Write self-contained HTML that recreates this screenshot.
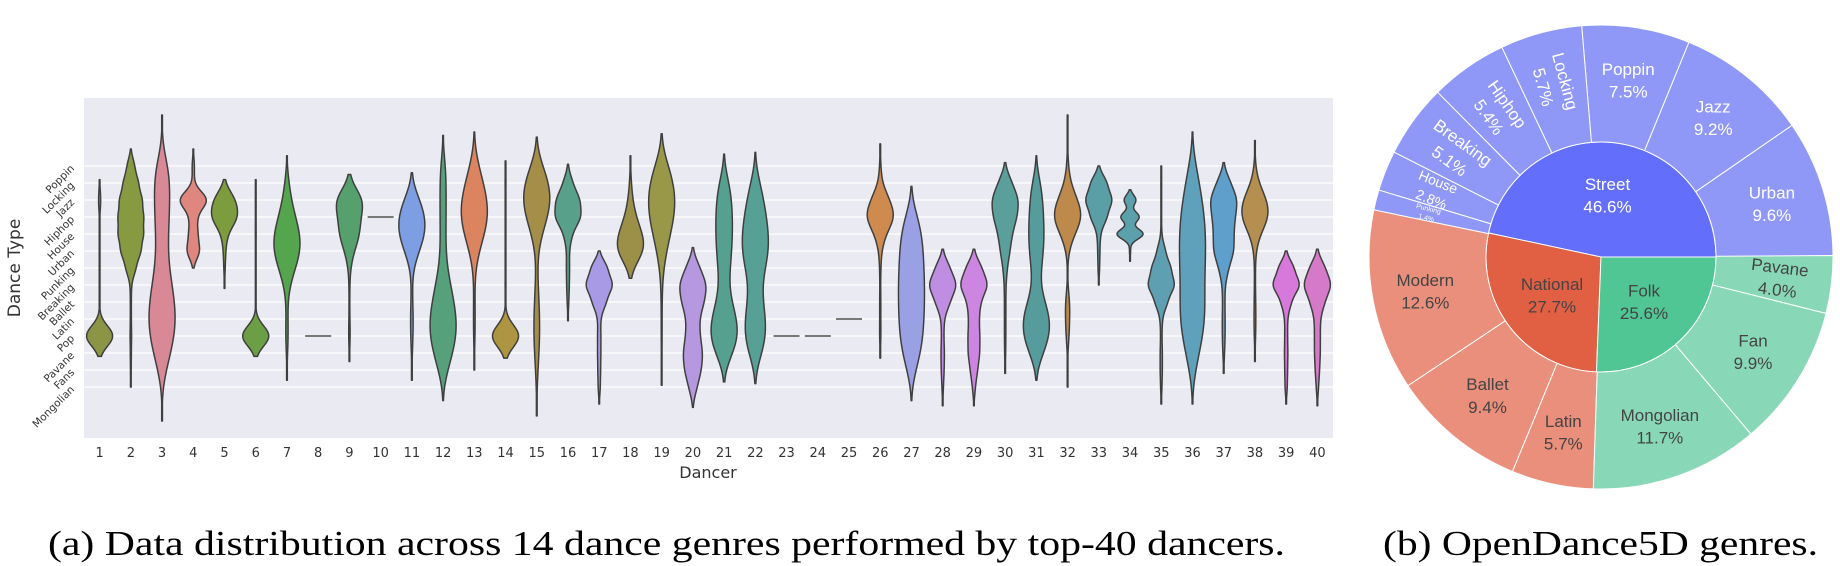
<!DOCTYPE html>
<html><head><meta charset="utf-8"><style>
html,body{margin:0;padding:0;background:#fff;}
svg{display:block;}
</style></head><body>
<svg id="fig" width="1840" height="566" viewBox="0 0 1840 566" xmlns="http://www.w3.org/2000/svg">
<rect x="84" y="98" width="1249" height="340" fill="#eaeaf2"/>
<g id="grid"></g>
<g id="violins"></g>
<g id="yticks"></g>
<g id="xticks"></g>
<text transform="translate(20,268) rotate(-90)" text-anchor="middle" font-family="DejaVu Sans, Liberation Sans, sans-serif" font-size="17" fill="#333">Dance Type</text>
<text x="708" y="478" text-anchor="middle" font-family="DejaVu Sans, Liberation Sans, sans-serif" font-size="16" fill="#333">Dancer</text>
<g id="sunburst"></g>
<text x="48" y="555" font-family="Liberation Serif, serif" font-size="35" fill="#000" textLength="1237" lengthAdjust="spacingAndGlyphs">(a) Data distribution across 14 dance genres performed by top-40 dancers.</text>
<text x="1383" y="555" font-family="Liberation Serif, serif" font-size="35" fill="#000" textLength="435" lengthAdjust="spacingAndGlyphs">(b) OpenDance5D genres.</text>
</svg>
<script>
const NS="http://www.w3.org/2000/svg";
// ---------- violin data ----------
const categories=["Poppin","Locking","Jazz","Hiphop","House","Urban","Punking","Breaking","Ballet","Latin","Pop","Pavane","Fans","Mongolian"];
const dancers=[1,2,3,4,5,6,7,8,9,10,11,12,13,14,15,16,17,18,19,20,21,22,23,24,25,26,27,28,29,30,31,32,33,34,35,36,37,38,39,40];
const weights=[
[0,0,.08,0,0,0,0,0,0,0,1,0,0,0],
[.3,.6,.9,1,1,.8,.4,.05,.04,.04,.06,.04,.03,0],
[.5,.55,.55,.5,.45,.4,.5,.7,.9,1,.9,.6,.3,0],
[.08,.05,1,.25,.3,.45,0,0,0,0,0,0,0,0],
[0,0,.8,1,.2,.08,.05,0,0,0,0,0,0,0],
[0,0,.02,0,.03,0,0,0,0,0,1,0,0,0],
[0,.15,.3,.6,.95,1,.6,.2,.05,.07,.1,.04,0,0],
[0,0,0,0,0,0,0,0,0,0,1,0,0,0],
[0,0,1,.55,.65,.25,.05,.02,.02,.02,.06,0,0,0],
[0,0,0,1,0,0,0,0,0,0,0,0,0,0],
[0,0,.55,.95,.95,.5,.08,.03,.06,.1,.08,.03,0,0],
[.2,.22,.22,.22,.2,.2,.3,.55,.8,1,1,.7,.35,0],
[.3,.6,.9,1,.7,.3,.05,.03,.05,.06,.06,0,0,0],
[0,.03,0,0,0,0,0,.03,0,0,1,0,0,0],
[.4,.85,1,.75,.35,.1,.05,.1,.15,.2,.2,.15,.08,.03],
[0,.35,.9,1,.3,.1,.12,.1,.06,0,0,0,0,0],
[0,0,0,0,0,0,.6,1,.5,.1,.12,.12,.1,.08],
[0,.05,.12,.3,.7,1,0,0,0,0,0,0,0,0],
[.5,.85,1,.9,.6,.35,.12,.05,.03,.03,.03,.03,0,0],
[0,0,0,0,0,0,.5,1,.8,.45,.5,.7,.6,.3],
[0,.35,.5,.55,.55,.5,.4,.3,.5,.85,1,.6,0,0],
[0,.35,.6,.8,.95,1,.7,.45,.55,.75,.8,.5,0,0],
[0,0,0,0,0,0,0,0,0,0,1,0,0,0],
[0,0,0,0,0,0,0,0,0,0,1,0,0,0],
[0,0,0,0,0,0,0,0,0,1,0,0,0,0],
[.04,.1,.6,1,.35,.08,.04,.02,.04,.03,.05,0,0,0],
[0,0,0,.5,.8,.9,.95,1,1,.95,.9,.7,.35,0],
[0,0,0,0,0,0,.5,1,.5,.1,.08,.12,.1,.05],
[0,0,0,0,0,0,.55,1,.45,.35,.4,.4,.25,.1],
[0,.5,1,.85,.5,.35,.15,.06,.05,.05,.05,.04,0,0],
[0,.3,.45,.5,.55,.5,.35,.25,.6,1,.95,.5,0,0],
[.05,.15,.6,1,.4,.05,0,0,.15,.12,.1,0,0,0],
[0,.6,1,.6,.12,.08,.06,0,0,0,0,0,0,0],
[0,0,.45,.7,1,.04,0,0,0,0,0,0,0,0],
[0,.03,.02,.02,.03,.3,.7,1,.45,.08,.05,.08,.08,.05],
[.3,.5,.75,.9,1,1,.95,.9,.95,.95,.8,.5,.25,0],
[0,.5,1,.8,.7,.75,.35,.1,.08,.1,.1,.06,0,0],
[.03,.2,.8,1,.3,.05,.03,.03,.05,.06,.05,0,0,0],
[0,0,0,0,0,0,.55,1,.35,.1,.1,.12,.1,.08],
[0,0,0,0,0,0,.55,1,.5,.2,.2,.2,.15,.08]
];
const bandwidths=[.6,.5,1,.5,.6,.6,.8,.6,.75,.6,.8,.9,1,.65,.85,.55,.5,.8,.95,.6,.85,.9,.6,.6,.6,.65,.9,.55,.55,.6,.8,.75,.5,.3,.5,1,.6,.75,.5,.55];
const cuts=[2,2,3,2,2,2,2,2,2,2,2,2,2,2,2,2,2,2,2,2,2,2,2,2,2,2,2,2,2,2,2,4,2,2,2,2,2,2,2,2];
const fills=["#8c9446","#879a42","#d98896","#df877e","#7d9c3d","#6b9e45","#55a44e","#55a44e","#56a06e","#56a074","#7d9ee2","#56a07c","#dc8460","#ad9541","#a58e48","#58a08a","#a99ae6","#9c9048","#999848","#b598e0","#56a08f","#57a095","#5aa098","#5aa098","#5aa098","#cf8a4f","#9aa0e4","#bf8ee2","#cc85e0","#5a9f9a","#579c9c","#bd8a4c","#5a9fa6","#5ca0ab","#5ea0b2","#5fa0ba","#5f9fcb","#b48f50","#d679da","#d47ac8"];

const plotL=84,plotR=1333,plotT=98,plotB=438;
const band=(plotR-plotL)/dancers.length;
function xScale(i){return plotL+band*(i+0.5);}
function yScale(k){return 166+17*k;}
const maxHalf=13;

const gGrid=document.getElementById('grid');
const gV=document.getElementById('violins');
const gY=document.getElementById('yticks');
const gX=document.getElementById('xticks');

categories.forEach((c,k)=>{
  const l=document.createElementNS(NS,'line');
  
  
  l.setAttribute('x1',plotL);l.setAttribute('x2',plotR);
  l.setAttribute('y1',yScale(k));l.setAttribute('y2',yScale(k));
  l.setAttribute('stroke','#ffffff');l.setAttribute('stroke-width','1.3');
  gGrid.appendChild(l);
  const t=document.createElementNS(NS,'text');
  
  
  const x=75,y=yScale(k)+3;
  t.setAttribute('transform','translate('+x+','+y+') rotate(-45)');
  t.setAttribute('text-anchor','end');
  t.setAttribute('font-family','DejaVu Sans, Liberation Sans, sans-serif');
  t.setAttribute('font-size','10.5');
  t.setAttribute('fill','#333');
  t.textContent=c;
  gY.appendChild(t);
});

dancers.forEach((d,i)=>{
  const t=document.createElementNS(NS,'text');
  
  
  t.setAttribute('x',xScale(i));t.setAttribute('y',457);
  t.setAttribute('text-anchor','middle');
  t.setAttribute('font-family','DejaVu Sans, Liberation Sans, sans-serif');
  t.setAttribute('font-size','13');
  t.setAttribute('fill','#333');
  t.textContent=d;
  gX.appendChild(t);
});

dancers.forEach((d,i)=>{
  const w=weights[i],bw=bandwidths[i],cut=cuts[i];
  const cx=xScale(i);
  const nz=[];w.forEach((v,k)=>{if(v>0)nz.push(k);});
  if(nz.length===1){
    const l=document.createElementNS(NS,'line');
    
    
    l.setAttribute('x1',cx-maxHalf);l.setAttribute('x2',cx+maxHalf);
    l.setAttribute('y1',yScale(nz[0]));l.setAttribute('y2',yScale(nz[0]));
    l.setAttribute('stroke','#505050');l.setAttribute('stroke-width','1.6');
    gV.appendChild(l);return;
  }
  const k0=nz[0]-cut*bw,k1=nz[nz.length-1]+cut*bw;
  const ks=[],fs=[];
  for(let k=k0;k<=k1+1e-9;k+=0.04){
    let f=0;w.forEach((v,j)=>{if(v>0)f+=v*Math.exp(-0.5*Math.pow((k-j)/bw,2));});
    ks.push(k);fs.push(f);
  }
  const mx=Math.max(...fs);
  const hw=fs.map(f=>Math.max(0.35,maxHalf*f/mx));
  let p='M'+cx.toFixed(2)+','+yScale(ks[0]).toFixed(2);
  for(let n=0;n<ks.length;n++)p+='L'+(cx+hw[n]).toFixed(2)+','+yScale(ks[n]).toFixed(2);
  p+='L'+cx.toFixed(2)+','+yScale(ks[ks.length-1]).toFixed(2);
  for(let n=ks.length-1;n>=0;n--)p+='L'+(cx-hw[n]).toFixed(2)+','+yScale(ks[n]).toFixed(2);
  p+='Z';
  const path=document.createElementNS(NS,'path');
  
  
  path.setAttribute('d',p);
  path.setAttribute('fill',fills[i]);
  path.setAttribute('stroke','#3f3f3f');
  path.setAttribute('stroke-width','1.5');
  path.setAttribute('stroke-linejoin','round');
  gV.appendChild(path);
});

// ---------- sunburst data ----------
const groupNames=["Street","National","Folk"];
const groupValues=[46.6,27.7,25.6];
const leafNames=["Urban","Jazz","Poppin","Locking","Hiphop","Breaking","House","Punking","Modern","Ballet","Latin","Mongolian","Fan","Pavane"];
const leafValues=[9.6,9.2,7.5,5.7,5.4,5.1,2.8,1.4,12.6,9.4,5.7,11.7,9.9,4.0];
const leafParent=[0,0,0,0,0,0,0,0,1,1,1,2,2,2];
const leafMode=["h","h","h","r","r","r","r","r","h","h","h","h","h","r"];
const leafFont=[17,17,17,17,17,17,14,7,17,17,17,17,17,17];
const groupFill=["#636efa","#e15f43","#51c695"];
const leafFill=["#8f98f6","#ea8f7b","#88d8b8"];
const textFill=["#ffffff","#444444","#444444"];

const CX=1601,CY=257,R=232,RI=115;
const gS=document.getElementById('sunburst');
function pt(r,a){const t=a*Math.PI/180;return [CX+r*Math.cos(t),CY-r*Math.sin(t)];}
function wedge(r0,r1,a0,a1){
  const large=(a1-a0)>180?1:0;
  const p1=pt(r1,a0),p2=pt(r1,a1),p3=pt(r0,a1),p4=pt(r0,a0);
  let d='M'+p1[0]+','+p1[1]+'A'+r1+','+r1+' 0 '+large+' 0 '+p2[0]+','+p2[1]+'L'+p3[0]+','+p3[1];
  if(r0>0)d+='A'+r0+','+r0+' 0 '+large+' 1 '+p4[0]+','+p4[1];
  return d+'Z';
}
function label(lines,x,y,rot,size,fill,name){
  const t=document.createElementNS(NS,'text');
  
  
  t.setAttribute('transform','translate('+x.toFixed(1)+','+y.toFixed(1)+') rotate('+rot.toFixed(1)+')');
  t.setAttribute('text-anchor','middle');
  t.setAttribute('font-family','Liberation Sans, sans-serif');
  t.setAttribute('font-size',size);
  t.setAttribute('fill',fill);
  const lh=size*1.33;
  lines.forEach((s,n)=>{
    const ts=document.createElementNS(NS,'tspan');
    ts.setAttribute('x',0);
    ts.setAttribute('y',((n-(lines.length-1)/2)*lh+size*0.36).toFixed(1));
    ts.textContent=s;t.appendChild(ts);
  });
  gS.appendChild(t);
}
const total=groupValues.reduce((a,b)=>a+b,0);
let acc=0;
groupValues.forEach((v,g)=>{
  const a0=acc/total*360,a1=(acc+v)/total*360;acc+=v;
  const p=document.createElementNS(NS,'path');
  
  
  p.setAttribute('d',wedge(0,RI,a0,a1));
  p.setAttribute('fill',groupFill[g]);p.setAttribute('stroke','#fff');p.setAttribute('stroke-width','1');
  gS.appendChild(p);
});
acc=0;
leafValues.forEach((v,i)=>{
  const a0=acc/total*360,a1=(acc+v)/total*360;acc+=v;
  const p=document.createElementNS(NS,'path');
  
  
  p.setAttribute('d',wedge(RI,R,a0,a1));
  p.setAttribute('fill',leafFill[leafParent[i]]);p.setAttribute('stroke','#fff');p.setAttribute('stroke-width','1');
  gS.appendChild(p);
});
acc=0;
groupValues.forEach((v,g)=>{
  const am=(acc+v/2)/total*360;acc+=v;
  const q=pt(62,am);
  label([groupNames[g],v.toFixed(1)+'%'],q[0],q[1],0,17,textFill[g],'label-'+groupNames[g].toLowerCase());
});
acc=0;
leafValues.forEach((v,i)=>{
  const am=(acc+v/2)/total*360;acc+=v;
  const q=pt(179,am);
  let rot=0;
  if(leafMode[i]==='r'){rot=180-am;while(rot>90)rot-=180;while(rot<-90)rot+=180;}
  label([leafNames[i],v.toFixed(1)+'%'],q[0],q[1],rot,leafFont[i],textFill[leafParent[i]],'label-'+leafNames[i].toLowerCase());
});
</script>
</body></html>
